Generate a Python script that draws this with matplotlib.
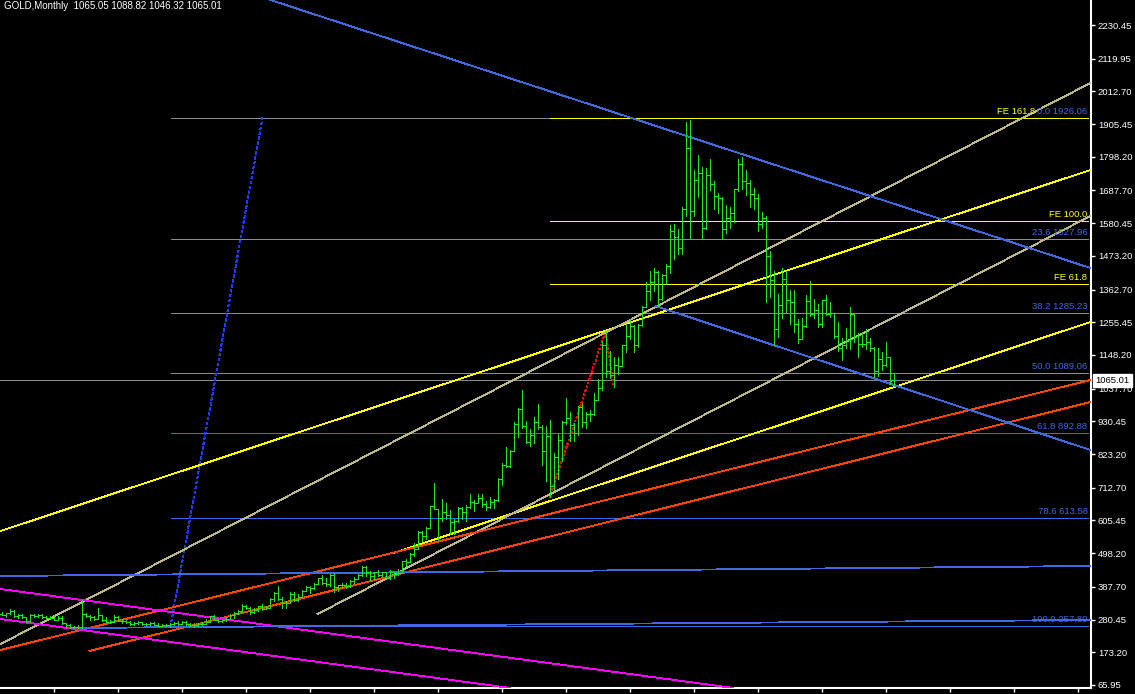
import matplotlib
matplotlib.use("Agg")
import matplotlib.pyplot as plt
import numpy as np

# ---- monthly bars, oldest first ----
opens = [300, 297, 301, 309, 293, 296, 288, 277, 294, 292, 294, 288, 287, 287, 280, 286, 268, 262, 255, 255, 257,
         299, 292, 290, 284, 294, 278, 274, 273, 289, 277, 277, 273, 265, 270, 272, 265, 267, 268, 264, 261,
         264, 262, 266, 268, 267, 271, 265, 262, 264, 267,
         265, 273, 293, 278, 275,
         278, 282, 296, 301, 308, 326, 318, 304, 312, 324, 316, 318, 347,
         367, 347, 334, 336, 364, 346, 354, 375, 388, 384, 398, 416, 400, 396, 427, 387, 393, 395, 391, 407,
         415, 428, 452, 438, 422, 435, 428, 435, 417, 437, 429, 433, 473, 470, 495, 513, 568, 556, 582, 654,
         643, 613, 632, 623, 599, 604, 646,
         632, 650, 665, 662, 680, 659, 650, 666, 673, 743, 789, 783,
         834, 923, 971, 916, 864, 886, 930, 913, 833, 884, 717, 814,
         869, 928, 942, 917, 891, 979, 927, 954, 955, 1002, 1040, 1182,
         1096, 1081, 1117, 1113, 1180, 1212, 1244, 1181, 1248, 1307, 1357, 1386,
         1421, 1332, 1410, 1439, 1556, 1536, 1500, 1628, 1826, 1620, 1722, 1746,
         1565, 1738, 1710, 1669, 1663, 1561, 1598, 1614, 1691, 1773, 1719, 1713,
         1675, 1663, 1578, 1597, 1472, 1393, 1234, 1312, 1396, 1327, 1323, 1250,
         1201, 1244, 1326, 1284, 1296, 1250, 1327, 1282, 1287, 1211, 1171, 1182,
         1199, 1283, 1212, 1183, 1183, 1190, 1172, 1095, 1134, 1114, 1142, 1065.05]
highs = [306, 303, 315, 311, 298, 298, 290, 300, 300, 300, 298, 293, 292, 296, 291, 291, 269, 265, 260, 262, 345,
         301, 295, 292, 320, 296, 289, 280, 294, 291, 283, 280, 275, 272, 275, 274, 270, 272, 271, 268, 266,
         267, 268, 272, 277, 275, 275, 270, 268, 270, 272,
         283, 293, 294, 280, 280,
         290, 300, 305, 312, 330, 329, 322, 318, 325, 330, 325, 350, 372,
         389, 355, 340, 370, 372, 366, 378, 391, 392, 400, 417, 427, 418, 430, 432, 395, 400, 402, 411, 420,
         429, 456, 457, 440, 436, 444, 438, 438, 442, 438, 448, 474, 479, 498, 530, 571, 572, 583, 654, 730,
         644, 677, 663, 640, 610, 650, 649,
         657, 691, 672, 691, 691, 671, 683, 676, 745, 795, 846, 836,
         929, 975, 1033, 933, 904, 945, 988, 917, 914, 935, 826, 889,
         933, 1006, 961, 924, 982, 990, 960, 967, 1025, 1070, 1195, 1226,
         1162, 1142, 1140, 1181, 1249, 1265, 1245, 1251, 1310, 1388, 1424, 1432,
         1424, 1413, 1447, 1575, 1577, 1560, 1632, 1913, 1920, 1756, 1804, 1764,
         1763, 1791, 1718, 1678, 1668, 1640, 1632, 1692, 1790, 1796, 1754, 1723,
         1695, 1676, 1617, 1605, 1488, 1423, 1348, 1434, 1424, 1361, 1362, 1267,
         1270, 1345, 1392, 1331, 1315, 1326, 1345, 1322, 1287, 1255, 1204, 1238,
         1307, 1283, 1219, 1224, 1232, 1205, 1174, 1170, 1157, 1191, 1142, 1088.82]
lows = [294, 288, 298, 290, 285, 287, 273, 273, 289, 290, 285, 284, 282, 278, 278, 266, 256, 252, 252, 253, 253,
        288, 280, 280, 282, 275, 272, 268, 271, 275, 270, 268, 263, 263, 265, 262, 262, 264, 262, 258, 258,
        259, 257, 262, 262, 265, 263, 258, 256, 261, 263,
        265, 271, 278, 272, 273,
        276, 282, 285, 300, 305, 315, 300, 302, 310, 312, 315, 318, 342,
        345, 320, 320, 335, 340, 342, 354, 374, 367, 381, 398, 398, 390, 392, 372, 375, 386, 385, 387, 402,
        413, 425, 425, 411, 415, 425, 422, 416, 414, 418, 428, 432, 456, 469, 490, 512, 538, 546, 582, 642,
        542, 605, 611, 560, 560, 600, 611,
        603, 647, 636, 662, 651, 641, 648, 648, 668, 722, 780, 781,
        834, 879, 910, 860, 851, 860, 907, 786, 735, 681, 705, 741,
        802, 922, 865, 866, 885, 913, 908, 933, 952, 1000, 1035, 1075,
        1072, 1044, 1087, 1112, 1158, 1200, 1157, 1175, 1242, 1307, 1330, 1358,
        1308, 1329, 1381, 1418, 1462, 1478, 1480, 1603, 1532, 1603, 1667, 1531,
        1562, 1690, 1627, 1614, 1527, 1547, 1564, 1583, 1685, 1692, 1672, 1635,
        1626, 1555, 1565, 1321, 1338, 1180, 1208, 1271, 1290, 1251, 1225, 1186,
        1200, 1240, 1277, 1268, 1240, 1241, 1281, 1273, 1205, 1160, 1131, 1170,
        1167, 1191, 1142, 1175, 1169, 1162, 1077, 1080, 1098, 1111, 1052, 1046.32]
closes = [297, 301, 309, 293, 296, 288, 277, 294, 292, 294, 288, 287, 287, 280, 286, 268, 262, 255, 255, 257, 299,
          292, 290, 284, 294, 278, 274, 273, 289, 277, 277, 273, 265, 270, 272, 265, 267, 268, 264, 261, 264,
          262, 266, 268, 267, 271, 265, 262, 264, 267, 265,
          273, 293, 278, 275, 278,
          282, 296, 301, 308, 326, 318, 304, 312, 324, 316, 318, 347, 367,
          347, 334, 336, 364, 346, 354, 375, 388, 384, 398, 416, 400, 396, 427, 387, 393, 395, 391, 407, 415,
          428, 452, 438, 422, 435, 428, 435, 417, 437, 429, 433, 473, 470, 495, 513, 568, 556, 582, 654, 643,
          613, 632, 623, 599, 604, 646, 632,
          650, 665, 662, 680, 659, 650, 666, 673, 743, 789, 783, 834,
          923, 971, 916, 864, 886, 930, 913, 833, 884, 717, 814, 869,
          928, 942, 917, 891, 979, 927, 954, 955, 1002, 1040, 1182, 1096,
          1081, 1117, 1113, 1180, 1212, 1244, 1181, 1248, 1307, 1357, 1386, 1421,
          1332, 1410, 1439, 1556, 1536, 1500, 1628, 1826, 1620, 1722, 1746, 1565,
          1738, 1710, 1669, 1663, 1561, 1598, 1614, 1691, 1773, 1719, 1713, 1675,
          1663, 1578, 1597, 1472, 1393, 1234, 1312, 1396, 1327, 1323, 1250, 1201,
          1244, 1326, 1284, 1296, 1250, 1327, 1282, 1287, 1211, 1171, 1182, 1199,
          1283, 1212, 1183, 1183, 1190, 1172, 1095, 1134, 1114, 1142, 1064, 1065.01]

# price scale labels on the right
tick_prices = [2230.45, 2119.95, 2012.70, 1905.45, 1798.20, 1687.70, 1580.45, 1473.20, 1362.70, 1255.45,
               1148.20, 1037.70, 930.45, 823.20, 712.70, 605.45, 498.20, 387.70, 280.45, 173.20, 65.95]
last_price = 1065.01

# fibo retracement levels
fib_levels = [1926.06, 1527.96, 1285.23, 1089.06, 892.88, 613.58, 257.80]
fib_labels = ["0.0 1926.06", "23.6 1527.96", "38.2 1285.23", "50.0 1089.06",
              "61.8 892.88", "78.6 613.58", "100.0 257.80"]
fib_start = 42.25
fib_diag = ([42.25, 65.25], [257.80, 1926.06])

# fibo expansion
fe_levels = [1925.8, 1589.0, 1381.0]
fe_labels = ["FE 161.8", "FE 100.0", "FE 61.8"]
fe_label_x = [258.5, 271.5, 271.5]
fe_points = ([137, 151, 153], [681, 1226, 1044])

# trendlines: (bar1, price1, bar2, price2)
yellow_lines = [(-0.25, 571.0, 272.25, 1754.9), (98, 498.9, 272.25, 1256.4)]
khaki_lines = [(-0.25, 200.4, 272.25, 2040.2), (79, 298.8, 272.25, 1604.1)]
red_lines = [(-0.25, 180.8, 272.25, 1066.2), (22, 177.5, 272.25, 994.0)]
magenta_lines = [(-0.25, 380.8, 183, 56.1), (-0.25, 282.4, 127.25, 56.1)]
blue_lines = [(67.25, 2312.4, 272.25, 1433.5), (163.5, 1308.9, 272.25, 836.6),
              (-0.25, 423.4, 272.25, 456.2), (19, 253.0, 272.25, 279.2)]

BG = "black"
BAR = "#22E622"
BLUE = "#4169E1"
GREY = "#8C8C8C"
YEL = "#FFFF00"
KHAKI = "#BDB88A"
RED = "#FF4500"
MAG = "#FF00FF"

plt.rcParams["font.family"] = ["Liberation Sans", "DejaVu Sans"]

fig = plt.figure(figsize=(11.35, 6.94), dpi=100, facecolor=BG)
ax = fig.add_axes([0, 6 / 694, 1091 / 1135, 688 / 694], facecolor=BG)

n = len(highs)
idx = np.arange(n)
px = 0.72   # one pixel in points
slw = 0.62  # sloped lines
fs = 6.8

def tline(seg, color, style="-"):
    ax.plot([seg[0], seg[2]], [seg[1], seg[3]], color=color, lw=slw, ls=style, antialiased=False, zorder=3)

# fib retracement levels
for i, lev in enumerate(fib_levels):
    c = GREY if i < 4 else BLUE
    ax.hlines(lev, fib_start, 271.5, color=c, lw=px, antialiased=False, zorder=2)
    ax.annotate(fib_labels[i], xy=(271.5, lev), xytext=(0, 1.5), textcoords="offset points",
                ha="right", va="bottom", color=BLUE, fontsize=fs, zorder=6)
ax.plot(fib_diag[0], fib_diag[1], color="#1E3CFF", lw=slw, ls=(0, (3, 3)), antialiased=False, zorder=3)

# fib expansion
for lev, lab, lx in zip(fe_levels, fe_labels, fe_label_x):
    ax.hlines(lev, fe_points[0][0], 271.5, color=YEL, lw=px, antialiased=False, zorder=2)
    ax.annotate(lab, xy=(lx, lev), xytext=(0, 1.5),
                textcoords="offset points", ha="right", va="bottom", color=YEL, fontsize=fs, zorder=6)
ax.plot(fe_points[0], fe_points[1], color="#FF0000", lw=slw, ls=(0, (2, 3)), antialiased=False, zorder=3)

for seg in yellow_lines:
    tline(seg, YEL)
for seg in khaki_lines:
    tline(seg, KHAKI)
for seg in red_lines:
    tline(seg, RED)
for seg in magenta_lines:
    tline(seg, MAG)
for seg in blue_lines:
    tline(seg, BLUE)

# current price line
ax.axhline(last_price, color=GREY, lw=px, antialiased=False, zorder=2)

# bars: high-low stroke, open tick left, close tick right
ax.vlines(idx, lows, highs, color=BAR, lw=px, antialiased=False, zorder=4)
ax.hlines(opens, idx - 0.3, idx, color=BAR, lw=px, antialiased=False, zorder=4)
ax.hlines(closes, idx, idx + 0.3, color=BAR, lw=px, antialiased=False, zorder=4)

# 4 px per bar, bars centred on pixel columns
ax.set_xlim(-0.375, -0.375 + 1091 / 4)
ax.set_ylim(56.1, 2312.44)

for s in ["top", "left"]:
    ax.spines[s].set_visible(False)
for s in ["right", "bottom"]:
    ax.spines[s].set_color("white")
    ax.spines[s].set_linewidth(1.5)

ax.yaxis.tick_right()
ax.set_yticks(tick_prices)
ax.set_yticklabels([f"{p:.2f}" for p in tick_prices])
ax.tick_params(axis="y", colors="white", labelsize=fs, length=3, width=1, pad=2)
ax.set_xticks(np.arange(13, 272, 16))
ax.set_xticklabels([])
ax.tick_params(axis="x", colors="white", length=3, width=1)

ax.annotate(f"{last_price:.2f}", xy=(1.0, last_price), xycoords=("axes fraction", "data"),
            xytext=(3, 0), textcoords="offset points", ha="left", va="center", color="black",
            fontsize=fs, annotation_clip=False, zorder=10,
            bbox=dict(boxstyle="square,pad=0.25", fc="white", ec="white"))

fig.text(4 / 1135, 1 - 1 / 694, "GOLD,Monthly  1065.05 1088.82 1046.32 1065.01",
         color="white", fontsize=7, ha="left", va="top")

fig.savefig("out.png", dpi=100, facecolor=BG)
